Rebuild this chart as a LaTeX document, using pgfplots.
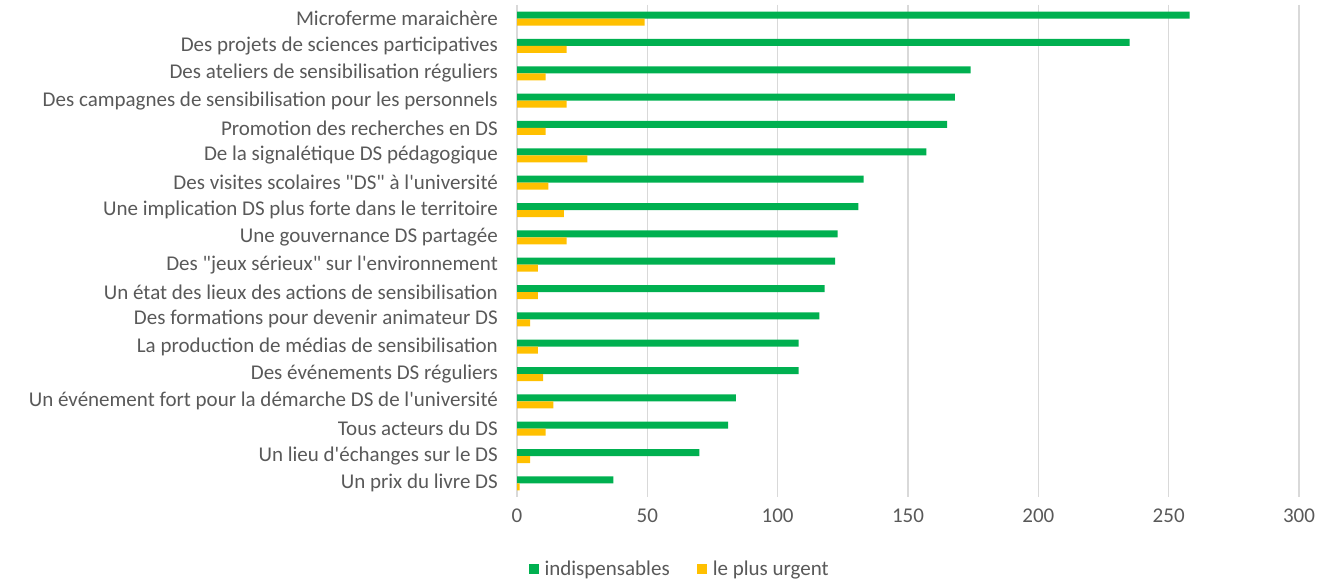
\documentclass[border=0pt]{standalone}
\usepackage{fontspec}
\setmainfont{Carlito}[Ligatures=TeXOff]
\usepackage{pgfplots}
\pgfplotsset{compat=1.18}
\definecolor{dsgreen}{RGB}{0,176,80}
\definecolor{dsorange}{RGB}{255,192,0}
\definecolor{txtgray}{RGB}{89,89,89}
\definecolor{gridgray}{RGB}{217,217,217}

\begin{document}
\begin{tikzpicture}[x=1pt,y=1pt]
\path[use as bounding box] (0,0) rectangle (1344,585);
\begin{axis}[
    at={(517pt,88pt)}, anchor=south west,
    scale only axis, width=782pt, height=492pt,
    xbar, bar width=7pt,
    xmin=0, xmax=300, xtick={0,50,...,300},
    ymin=-0.5, ymax=17.5, y dir=reverse,
    ytick={0,...,17},
    yticklabels={Microferme maraichère,
        Des projets de sciences participatives,
        Des ateliers de sensibilisation réguliers,
        Des campagnes de sensibilisation pour les personnels,
        Promotion des recherches en DS,
        De la signalétique DS pédagogique,
        Des visites scolaires "DS" à l'université,
        Une implication DS plus forte dans le territoire,
        Une gouvernance DS partagée,
        Des "jeux sérieux" sur l'environnement,
        Un état des lieux des actions de sensibilisation,
        Des formations pour devenir animateur DS,
        La production de médias de sensibilisation,
        Des événements DS réguliers,
        Un événement fort pour la démarche DS de l'université,
        Tous acteurs du DS,
        Un lieu d'échanges sur le DS,
        Un prix du livre DS},
    xmajorgrids, grid style={gridgray, line width=1.3pt},
    axis line style={draw=none},
    major tick length=0pt,
    font=\fontsize{21}{25}\selectfont,
    tick label style={txtgray},
    /pgf/number format/assume math mode=true,
    yticklabel style={inner sep=0pt, xshift=-19pt},
    xticklabel style={yshift=-8pt},
    legend style={at={(0.208,-0.146)}, anchor=center, draw=none,
        text=txtgray, font=\fontsize{21}{25}\selectfont},
    legend columns=2,
    /tikz/every even column/.append style={column sep=25pt},
    legend image code/.code={\path[#1] (0pt,-5pt) rectangle (10pt,5pt); \path (14pt,0pt);},
]
\addplot[fill=dsgreen, draw=none, bar shift=3.5pt] coordinates {
    (258,0) (235,1) (174,2) (168,3) (165,4) (157,5)
    (133,6) (131,7) (123,8) (122,9) (118,10) (116,11)
    (108,12) (108,13) (84,14) (81,15) (70,16) (37,17)
};
\addplot[fill=dsorange, draw=none, bar shift=-3.5pt] coordinates {
    (49,0) (19,1) (11,2) (19,3) (11,4) (27,5)
    (12,6) (18,7) (19,8) (8,9) (8,10) (5,11)
    (8,12) (10,13) (14,14) (11,15) (5,16) (1,17)
};
\legend{indispensables, le plus urgent}
\end{axis}
\end{tikzpicture}
\end{document}
